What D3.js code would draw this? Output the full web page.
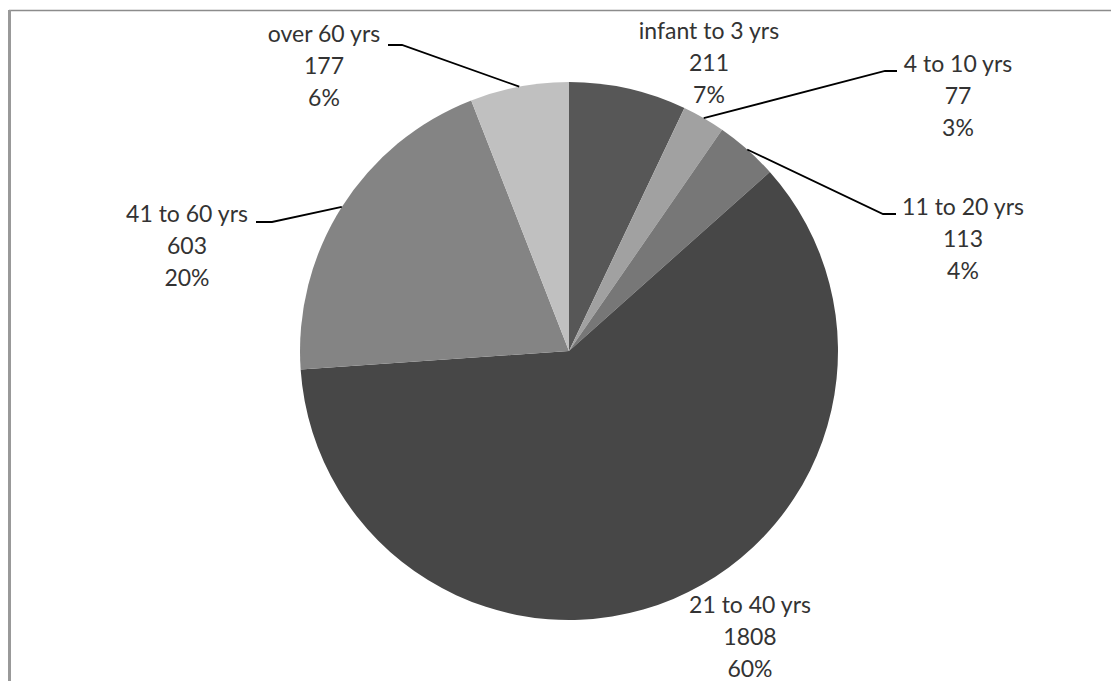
<!DOCTYPE html>
<html>
<head>
<meta charset="utf-8">
<script src="https://cdn.jsdelivr.net/npm/d3@7"></script>
<style>
  body { margin: 0; background: #fff; }
  svg { display: block; }
  text { font-family: Lato, "Open Sans", sans-serif; font-size: 23px; fill: #333; }
</style>
</head>
<body>
<svg id="chart" width="1111" height="681"></svg>
<script>
var categories = ['infant to 3 yrs', '4 to 10 yrs', '11 to 20 yrs', '21 to 40 yrs', '41 to 60 yrs', 'over 60 yrs'];
var counts = [211, 77, 113, 1808, 603, 177];
var percents = ['7%', '3%', '4%', '60%', '20%', '6%'];
var colors = ['#575757', '#a1a1a1', '#777777', '#474747', '#848484', '#c0c0c0'];

// label placement: text center x, first baseline y, leader elbow (null = no leader)
var labelPos = [
  { x: 709, y: 39,  elbow: null },
  { x: 958, y: 72,  elbow: [885, 71, 897] },
  { x: 963, y: 215, elbow: [883, 214, 896] },
  { x: 750, y: 613, elbow: null },
  { x: 187, y: 222, elbow: [272, 222, 256] },
  { x: 324, y: 42,  elbow: [402, 45, 388] }
];

var cx = 569, cy = 351, radius = 269;

var svg = d3.select('#chart');

// frame
svg.append('line').attr('x1', 9).attr('x2', 1111).attr('y1', 10.5).attr('y2', 10.5)
  .attr('stroke', '#8c8c8c').attr('stroke-width', 1.5);
svg.append('line').attr('x1', 9.5).attr('x2', 9.5).attr('y1', 10).attr('y2', 681)
  .attr('stroke', '#999').attr('stroke-width', 3);

var data = categories.map(function(c, i) {
  return { name: c, value: counts[i], pct: percents[i], color: colors[i], pos: labelPos[i] };
});

var pie = d3.pie().sort(null).value(function(d) { return d.value; });
var arc = d3.arc().innerRadius(0).outerRadius(radius);

var g = svg.append('g').attr('transform', 'translate(' + cx + ',' + cy + ')');
var arcs = pie(data);

g.selectAll('path.slice')
  .data(arcs)
  .enter().append('path')
  .attr('class', 'slice')
  .attr('d', arc)
  .attr('fill', function(d) { return d.data.color; });

// leader lines
arcs.forEach(function(a) {
  var e = a.data.pos.elbow;
  if (!e) return;
  var mid = (a.startAngle + a.endAngle) / 2;
  var sx = cx + radius * Math.sin(mid);
  var sy = cy - radius * Math.cos(mid);
  svg.append('polyline')
    .attr('points', [[sx, sy], [e[0], e[1]], [e[2], e[1]]].map(function(p) { return p.join(','); }).join(' '))
    .attr('fill', 'none')
    .attr('stroke', '#000')
    .attr('stroke-width', 1.8);
});

// labels
arcs.forEach(function(a) {
  var p = a.data.pos;
  var t = svg.append('text').attr('text-anchor', 'middle');
  [a.data.name, a.data.value, a.data.pct].forEach(function(s, k) {
    t.append('tspan').attr('x', p.x).attr('y', p.y + k * 32).text(s);
  });
});
</script>
</body>
</html>
